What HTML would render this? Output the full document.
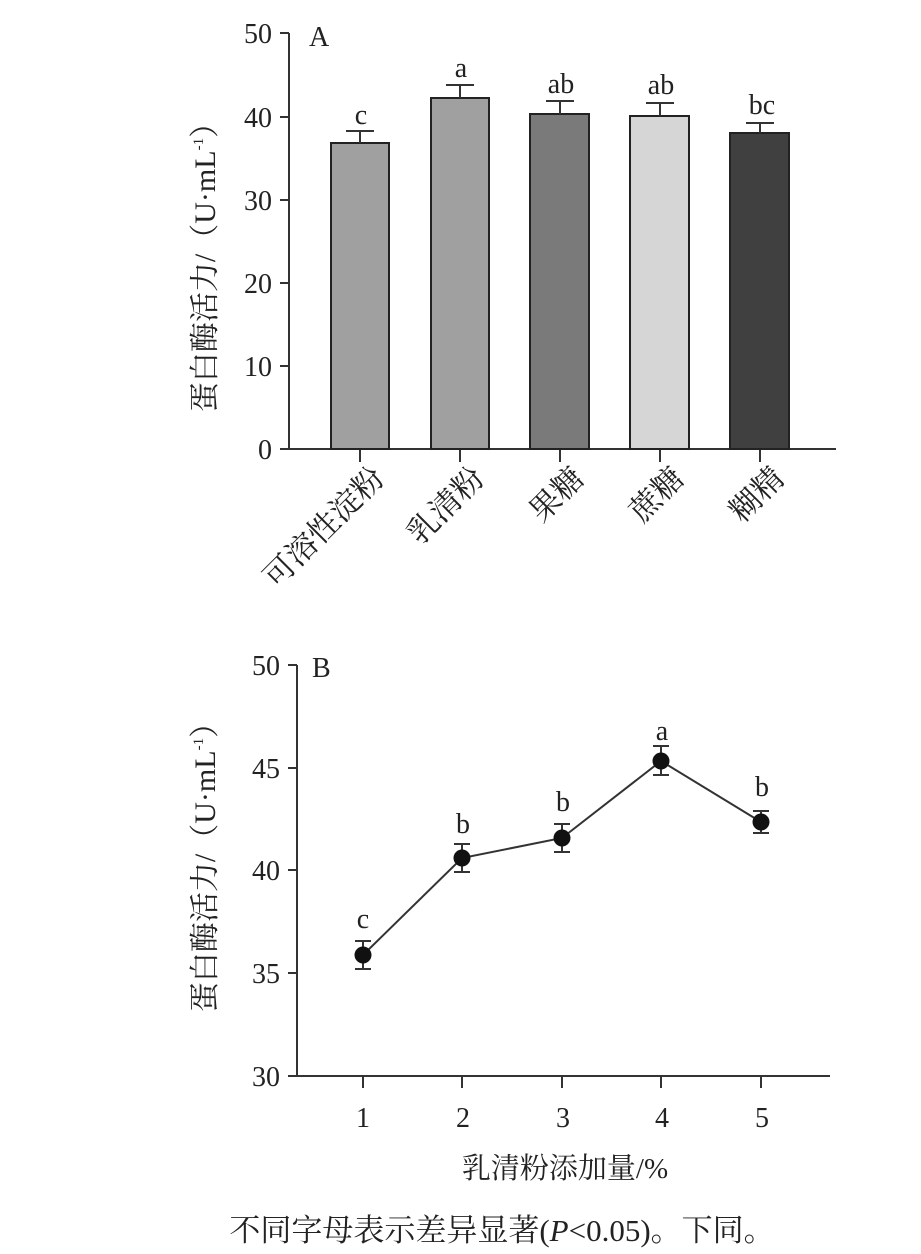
<!DOCTYPE html>
<html><head><meta charset="utf-8"><style>
html,body{margin:0;padding:0;background:#fff;}
svg text{font-family:"Liberation Serif","Noto Serif CJK SC",serif;fill:#222;}
</style></head><body>
<svg width="921" height="1249" viewBox="0 0 921 1249" xmlns="http://www.w3.org/2000/svg">
<g stroke="#333" stroke-width="2" fill="none">
<line x1="289" y1="33" x2="289" y2="450"/>
<line x1="288" y1="449" x2="836" y2="449"/>
<line x1="280" y1="33" x2="289" y2="33"/>
<line x1="280" y1="117" x2="289" y2="117"/>
<line x1="280" y1="200" x2="289" y2="200"/>
<line x1="280" y1="283" x2="289" y2="283"/>
<line x1="280" y1="366" x2="289" y2="366"/>
<line x1="280" y1="449" x2="289" y2="449"/>
<line x1="360" y1="449" x2="360" y2="462"/>
<line x1="460" y1="449" x2="460" y2="462"/>
<line x1="560" y1="449" x2="560" y2="462"/>
<line x1="660" y1="449" x2="660" y2="462"/>
<line x1="760" y1="449" x2="760" y2="462"/>
</g>
<g stroke="#222" stroke-width="2">
<rect x="331" y="143" width="58" height="306" fill="#a0a0a0"/>
<rect x="431" y="98" width="58" height="351" fill="#a0a0a0"/>
<rect x="530" y="114" width="59" height="335" fill="#7a7a7a"/>
<rect x="630" y="116" width="59" height="333" fill="#d6d6d6"/>
<rect x="730" y="133" width="59" height="316" fill="#404040"/>
</g>
<g stroke="#333" stroke-width="2">
<line x1="360" y1="143" x2="360" y2="131"/><line x1="346" y1="131" x2="374" y2="131"/>
<line x1="460" y1="98" x2="460" y2="85"/><line x1="446" y1="85" x2="474" y2="85"/>
<line x1="560" y1="114" x2="560" y2="101"/><line x1="546" y1="101" x2="574" y2="101"/>
<line x1="660" y1="116" x2="660" y2="103"/><line x1="646" y1="103" x2="674" y2="103"/>
<line x1="760" y1="133" x2="760" y2="123"/><line x1="746" y1="123" x2="774" y2="123"/>
</g>
<g font-size="28" text-anchor="end">
<text x="272" y="43">50</text><text x="272" y="127">40</text><text x="272" y="210">30</text>
<text x="272" y="293">20</text><text x="272" y="376">10</text><text x="272" y="459">0</text>
</g>
<text x="309" y="46" font-size="28">A</text>
<g font-size="28" text-anchor="middle">
<text x="361" y="124">c</text><text x="461" y="77">a</text><text x="561" y="93">ab</text>
<text x="661" y="94">ab</text><text x="762" y="114">bc</text>
</g>
<g font-size="31" text-anchor="end">
<text transform="translate(386,480) rotate(-45)">可溶性淀粉</text>
<text transform="translate(486,480) rotate(-45)">乳清粉</text>
<text transform="translate(586,480) rotate(-45)">果糖</text>
<text transform="translate(686,480) rotate(-45)">蔗糖</text>
<text transform="translate(786,480) rotate(-45)">糊精</text>
</g>
<text transform="translate(215,260) rotate(-90)" font-size="30" text-anchor="middle">蛋白酶活力/（U·mL<tspan font-size="15" dy="-12">-1</tspan><tspan dy="12">）</tspan></text>

<g stroke="#333" stroke-width="2" fill="none">
<line x1="297" y1="665" x2="297" y2="1077"/>
<line x1="296" y1="1076" x2="830" y2="1076"/>
<line x1="288" y1="665" x2="297" y2="665"/>
<line x1="288" y1="768" x2="297" y2="768"/>
<line x1="288" y1="870" x2="297" y2="870"/>
<line x1="288" y1="973" x2="297" y2="973"/>
<line x1="288" y1="1076" x2="297" y2="1076"/>
<line x1="363" y1="1076" x2="363" y2="1088"/>
<line x1="462" y1="1076" x2="462" y2="1088"/>
<line x1="562" y1="1076" x2="562" y2="1088"/>
<line x1="661" y1="1076" x2="661" y2="1088"/>
<line x1="761" y1="1076" x2="761" y2="1088"/>
<polyline points="363,955 462,858 562,838 661,761 761,822"/>
<line x1="363" y1="941" x2="363" y2="969"/><line x1="355" y1="941" x2="371" y2="941"/><line x1="355" y1="969" x2="371" y2="969"/>
<line x1="462" y1="844" x2="462" y2="872"/><line x1="454" y1="844" x2="470" y2="844"/><line x1="454" y1="872" x2="470" y2="872"/>
<line x1="562" y1="824" x2="562" y2="852"/><line x1="554" y1="824" x2="570" y2="824"/><line x1="554" y1="852" x2="570" y2="852"/>
<line x1="661" y1="746" x2="661" y2="775"/><line x1="653" y1="746" x2="669" y2="746"/><line x1="653" y1="775" x2="669" y2="775"/>
<line x1="761" y1="811" x2="761" y2="833"/><line x1="753" y1="811" x2="769" y2="811"/><line x1="753" y1="833" x2="769" y2="833"/>
</g>
<g fill="#111">
<circle cx="363" cy="955" r="8.5"/><circle cx="462" cy="858" r="8.5"/><circle cx="562" cy="838" r="8.5"/>
<circle cx="661" cy="761" r="8.5"/><circle cx="761" cy="822" r="8.5"/>
</g>
<g font-size="28" text-anchor="end">
<text x="280" y="675">50</text><text x="280" y="778">45</text><text x="280" y="880">40</text>
<text x="280" y="983">35</text><text x="280" y="1086">30</text>
</g>
<text x="312" y="677" font-size="28">B</text>
<g font-size="28" text-anchor="middle">
<text x="363" y="928">c</text><text x="463" y="833">b</text><text x="563" y="811">b</text>
<text x="662" y="740">a</text><text x="762" y="796">b</text>
<text x="363" y="1127">1</text><text x="463" y="1127">2</text><text x="563" y="1127">3</text>
<text x="662" y="1127">4</text><text x="762" y="1127">5</text>
</g>
<text x="565" y="1178" font-size="29" text-anchor="middle">乳清粉添加量/%</text>
<text transform="translate(215,860) rotate(-90)" font-size="30" text-anchor="middle">蛋白酶活力/（U·mL<tspan font-size="15" dy="-12">-1</tspan><tspan dy="12">）</tspan></text>
<text x="502" y="1241" font-size="31" text-anchor="middle">不同字母表示差异显著(<tspan font-style="italic">P</tspan>&lt;0.05)。下同。</text>
</svg>
</body></html>
